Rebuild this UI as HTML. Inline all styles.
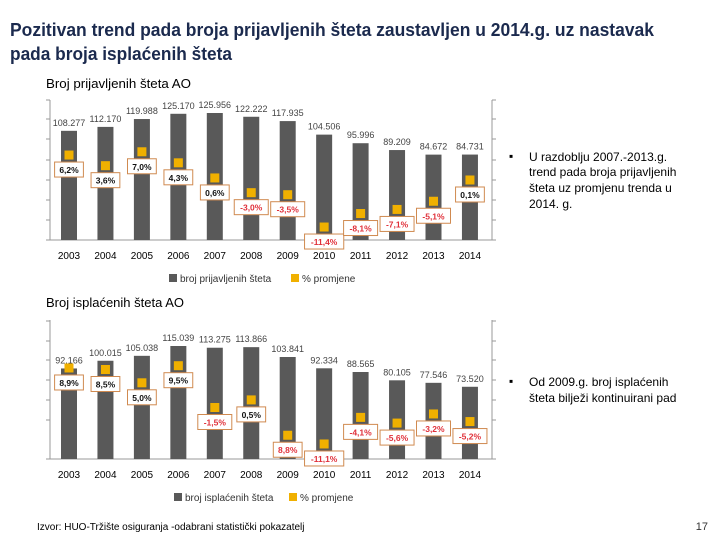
<!DOCTYPE html>
<html><head><meta charset="utf-8"><style>
body{margin:0;background:#fff}
svg{display:block;font-family:"Liberation Sans",sans-serif}
</style></head><body>
<svg id="s" width="720" height="540" viewBox="0 0 720 540">
<text x="10" y="36" font-size="18" font-weight="bold" fill="#1b2a4e" textLength="644" lengthAdjust="spacingAndGlyphs">Pozitivan trend pada broja prijavljenih šteta zaustavljen u 2014.g. uz nastavak</text>
<text x="10" y="60" font-size="18" font-weight="bold" fill="#1b2a4e" textLength="222" lengthAdjust="spacingAndGlyphs">pada broja isplaćenih šteta</text>
<text x="46" y="88" font-size="13" fill="#000" textLength="145" lengthAdjust="spacingAndGlyphs">Broj prijavljenih šteta AO</text>
<text x="46" y="307" font-size="13" fill="#000" textLength="138" lengthAdjust="spacingAndGlyphs">Broj isplaćenih šteta AO</text>
<g id="c1"></g>
<g id="c2"></g>
<g font-size="12" fill="#000">
<text x="509" y="160">▪</text>
<text x="529" y="161">U razdoblju 2007.-2013.g.</text>
<text x="529" y="176">trend pada broja prijavljenih</text>
<text x="529" y="192">šteta uz promjenu trenda u</text>
<text x="529" y="208">2014. g.</text>
</g>
<g font-size="12" fill="#000">
<text x="509" y="385">▪</text>
<text x="529" y="386">Od 2009.g. broj isplaćenih</text>
<text x="529" y="402">šteta bilježi kontinuirani pad</text>
</g>
<text x="37" y="530" font-size="10" fill="#000">Izvor: HUO-Tržište osiguranja -odabrani statistički pokazatelj</text>
<text x="708" y="530" font-size="11" fill="#333" text-anchor="end">17</text>
</svg>
<script>
const years=["2003","2004","2005","2006","2007","2008","2009","2010","2011","2012","2013","2014"];
const reported=[108277,112170,119988,125170,125956,122222,117935,104506,95996,89209,84672,84731];
const reportedLabels=["108.277","112.170","119.988","125.170","125.956","122.222","117.935","104.506","95.996","89.209","84.672","84.731"];
const reportedPct=[6.2,3.6,7.0,4.3,0.6,-3.0,-3.5,-11.4,-8.1,-7.1,-5.1,0.1];
const reportedPctLabels=["6,2%","3,6%","7,0%","4,3%","0,6%","-3,0%","-3,5%","-11,4%","-8,1%","-7,1%","-5,1%","0,1%"];
const paid=[92166,100015,105038,115039,113275,113866,103841,92334,88565,80105,77546,73520];
const paidLabels=["92.166","100.015","105.038","115.039","113.275","113.866","103.841","92.334","88.565","80.105","77.546","73.520"];
const paidPct=[8.9,8.5,5.0,9.5,-1.5,0.5,-8.8,-11.1,-4.1,-5.6,-3.2,-5.2];
const paidPctLabels=["8,9%","8,5%","5,0%","9,5%","-1,5%","0,5%","8,8%","-11,1%","-4,1%","-5,6%","-3,2%","-5,2%"];
const NS="http://www.w3.org/2000/svg";
function mk(p,t,a){const e=document.createElementNS(NS,t);for(const k in a)e.setAttribute(k,a[k]);p.appendChild(e);return e;}
function draw(g,cfg){
  const x=i=>69+i*36.45;
  const y=v=>cfg.base-v*cfg.k;
  const yp=p=>cfg.zero-p*cfg.pk;
  const ax=mk(g,'line',{x1:50,x2:50,y1:cfg.top,y2:cfg.base,stroke:'#999'});
  
  const ax2=mk(g,'line',{x1:492,x2:492,y1:cfg.top,y2:cfg.base,stroke:'#999'});
  
  const bl=mk(g,'line',{x1:50,x2:492,y1:cfg.base,y2:cfg.base,stroke:'#999'});
  
  cfg.ticks.forEach(t=>{mk(g,'line',{x1:46,x2:50,y1:t,y2:t,stroke:'#999'});mk(g,'line',{x1:492,x2:496,y1:t,y2:t,stroke:'#999'});});
  years.forEach((yr,i)=>{
    const cx=x(i),v=cfg.vals[i];
    const b=mk(g,'rect',{x:cx-8,y:y(v),width:16,height:cfg.base-y(v),fill:'#595959'});
    
    const vl=mk(g,'text',{x:cx,y:y(v)-5,'font-size':9,fill:'#444','text-anchor':'middle'});vl.textContent=cfg.vlab[i];
    
    const xl=mk(g,'text',{x:cx,y:cfg.base+19,'font-size':10,fill:'#000','text-anchor':'middle'});xl.textContent=yr;
    
  });
  years.forEach((yr,i)=>{
    const cx=x(i),py=yp(cfg.pct[i]);
    const m=mk(g,'rect',{x:cx-4.5,y:py-4.5,width:9,height:9,fill:'#f0b000'});
    
    const lab=cfg.plab[i],w=lab.length*5.2+8;
    const bx=mk(g,'rect',{x:cx-w/2,y:py+7,width:w,height:15,fill:'#fff',stroke:'#d08a50'});
    
    const neg=lab.indexOf('-')===0||(cfg.pct[i]<0);
    const t=mk(g,'text',{x:cx,y:py+18,'font-size':8.5,'font-weight':'bold',fill:neg?'#e0303a':'#111','text-anchor':'middle'});t.textContent=lab;
    
  });
  const ly=cfg.legY;
  const l1=mk(g,'rect',{x:cfg.lx1-4,y:ly-4,width:8,height:8,fill:'#595959'});
  
  const t1=mk(g,'text',{x:cfg.lx1+7,y:ly+4,'font-size':10,fill:'#333'});t1.textContent=cfg.legText;
  
  const l2=mk(g,'rect',{x:cfg.lx2-4,y:ly-4,width:8,height:8,fill:'#f0b000'});
  
  const t2=mk(g,'text',{x:cfg.lx2+7,y:ly+4,'font-size':10,fill:'#333'});t2.textContent='% promjene';
  
}
draw(document.getElementById('c1'),{base:240,top:100,k:127/125956,zero:180.4,pk:4.09,vals:reported,vlab:reportedLabels,pct:reportedPct,plab:reportedPctLabels,ticks:[100,119,139,160,180,200,220,240],legY:278,lx1:173,lx2:295,legText:'broj prijavljenih šteta'});
draw(document.getElementById('c2'),{base:459,top:320,k:113/115039,zero:401.8,pk:3.8,vals:paid,vlab:paidLabels,pct:paidPct,plab:paidPctLabels,ticks:[321,341,360,380,400,420,459],legY:497,lx1:178,lx2:293,legText:'broj isplaćenih šteta'});
</script>
</body></html>
